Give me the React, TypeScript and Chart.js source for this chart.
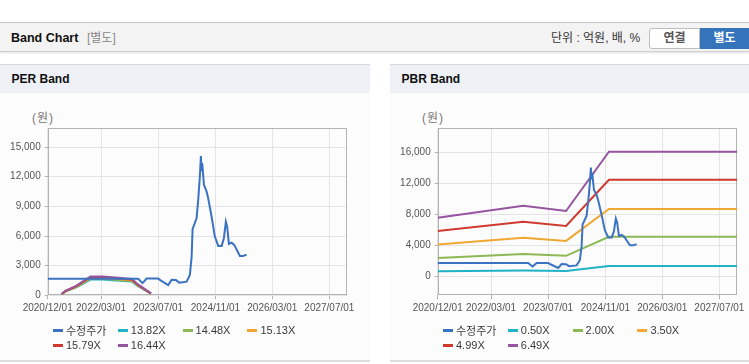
import React, { useEffect, useRef } from 'react';
import { Chart, registerables } from 'chart.js';

Chart.register(...registerables);

// ---------- data ----------
const xStart = '2020/12/01';
const xEnd = '2027/12/01';
const xTickLabels = ['2020/12/01', '2022/03/01', '2023/07/01', '2024/11/01', '2026/03/01', '2027/07/01'];

const priceDates = [
  '2020/12/01', '2023/01/12', '2023/02/18', '2023/03/25', '2023/07/02', '2023/07/16', '2023/09/25',
  '2023/10/24', '2023/11/30', '2023/12/28', '2024/02/29', '2024/03/28', '2024/04/12', '2024/04/20',
  '2024/05/24', '2024/06/07', '2024/06/21', '2024/06/30', '2024/07/06', '2024/07/11', '2024/07/26',
  '2024/08/18', '2024/08/31', '2024/09/29', '2024/10/27', '2024/11/25', '2024/12/24', '2025/01/12',
  '2025/01/29', '2025/02/09', '2025/02/24', '2025/03/19', '2025/04/10', '2025/05/29', '2025/06/26',
  '2025/07/25',
];
const priceValues = [
  1680, 1680, 1230, 1700, 1700, 1560, 1040,
  1560, 1540, 1280, 1380, 2060, 3910, 6690,
  7800, 9660, 12020, 14080, 12530, 13380, 11180,
  10500, 9830, 7970, 5940, 5000, 5000, 5780,
  7460, 6950, 5200, 5330, 5100, 3980, 3980,
  4115,
];

const perBandDates = [
  '2021/03/31', '2021/05/01', '2021/08/01', '2021/09/15', '2021/12/01',
  '2022/03/15', '2022/07/01', '2022/11/20', '2023/01/10', '2023/05/01',
];
const per1382 = [109, 378, 799, 1093, 1597, 1597, 1505, 1387, 925, 168];
const per1448 = [115, 396, 837, 1145, 1674, 1674, 1577, 1453, 969, 176];
const per1513 = [120, 414, 874, 1196, 1749, 1749, 1647, 1518, 1012, 184];
const per1579 = [125, 432, 912, 1249, 1825, 1825, 1719, 1585, 1057, 192];
const per1644 = [130, 450, 950, 1300, 1900, 1900, 1790, 1650, 1100, 200];

const pbrBandDates = ['2020/12/01', '2022/12/01', '2023/12/01', '2024/12/01', '2027/12/01'];
const pbr050 = [620, 720, 660, 1300, 1300];
const pbr200 = [2330, 2870, 2620, 5100, 5100];
const pbr350 = [4080, 4960, 4560, 8700, 8700];
const pbr499 = [5840, 7030, 6500, 12480, 12480];
const pbr649 = [7570, 9130, 8440, 16130, 16130];

const perYTicks = [0, 3000, 6000, 9000, 12000, 15000];
const pbrYTicks = [0, 4000, 8000, 12000, 16000];

const perLegend = ['수정주가', '13.82X', '14.48X', '15.13X', '15.79X', '16.44X'];
const pbrLegend = ['수정주가', '0.50X', '2.00X', '3.50X', '4.99X', '6.49X'];

const colors = ['#3a73c3', '#20b2c6', '#8cb955', '#f0a733', '#cf392f', '#95559f'];
// drawing order: lower value is drawn on top
const drawOrder = [0, 5, 4, 3, 2, 1];

// ---------- helpers ----------
const START = (() => {
  const [y, m, d] = xStart.split('/').map(Number);
  return Date.UTC(y, m - 1, d);
})();
const dayOf = (s: string) => {
  const [y, m, d] = s.split('/').map(Number);
  return (Date.UTC(y, m - 1, d) - START) / 86400000;
};
const toPoints = (dates: string[], values: number[]) =>
  dates.map((d, i) => ({ x: dayOf(d), y: values[i] }));

const TICK_FONT = "'Liberation Sans', Arial, sans-serif";
const UI_FONT = "'Liberation Sans', 'Noto Sans CJK KR', Arial, sans-serif";

const framePlugin = {
  id: 'frame',
  beforeDatasetsDraw(chart: any) {
    const { ctx, chartArea } = chart;
    const l = Math.round(chartArea.left) + 0.5;
    const t = Math.round(chartArea.top) + 0.5;
    const r = Math.round(chartArea.right) - 0.5;
    const b = Math.round(chartArea.bottom) - 0.5;
    ctx.save();
    ctx.strokeStyle = '#b3b3b3';
    ctx.lineWidth = 1;
    ctx.strokeRect(l, t, r - l, b - t);
    ctx.restore();
  },
};

type BandChartProps = {
  series: { x: number; y: number }[][];
  yMin: number;
  yMax: number;
  yTicks: number[];
};

function BandChart({ series, yMin, yMax, yTicks }: BandChartProps) {
  const ref = useRef<HTMLCanvasElement | null>(null);
  useEffect(() => {
    if (!ref.current) return;
    const xTicks = xTickLabels.map(dayOf);
    const chart = new Chart(ref.current, {
      type: 'line',
      data: {
        datasets: series.map((pts, i) => ({
          data: pts,
          borderColor: colors[i],
          backgroundColor: colors[i],
          borderWidth: 2,
          pointRadius: 0,
          tension: 0,
          fill: false,
          order: drawOrder[i],
        })),
      },
      options: {
        animation: false,
        responsive: false,
        maintainAspectRatio: false,
        parsing: false as any,
        layout: { padding: { top: 35.3, right: 22.7, bottom: 0, left: 0 } },
        plugins: { legend: { display: false }, tooltip: { enabled: false } },
        scales: {
          x: {
            type: 'linear',
            min: 0,
            max: dayOf(xEnd),
            afterBuildTicks: (s: any) => {
              s.ticks = xTicks.map((v) => ({ value: v }));
            },
            afterFit: (s: any) => {
              s.height = 27.7;
            },
            ticks: {
              autoSkip: false,
              maxRotation: 0,
              minRotation: 0,
              padding: 3,
              color: '#555',
              font: { family: TICK_FONT, size: 10 },
              callback: (_v: any, i: number) => xTickLabels[i],
            },
            grid: { color: '#e4e4e4', tickColor: '#b3b3b3', tickLength: 4, lineWidth: 1 },
            border: { display: false },
          },
          y: {
            type: 'linear',
            min: yMin,
            max: yMax,
            afterBuildTicks: (s: any) => {
              s.ticks = yTicks.map((v) => ({ value: v }));
            },
            afterFit: (s: any) => {
              s.width = 47.7;
            },
            ticks: {
              padding: 4,
              color: '#555',
              font: { family: TICK_FONT, size: 10 },
              callback: (v: any) => Number(v).toLocaleString('en-US'),
            },
            grid: { color: '#e4e4e4', tickColor: '#b3b3b3', tickLength: 3, lineWidth: 1 },
            border: { display: false },
          },
        },
      } as any,
      plugins: [framePlugin],
    });
    return () => chart.destroy();
  }, []);
  return <canvas ref={ref} width={370} height={230} style={{ display: 'block', width: 370, height: 230 }} />;
}

function Legend({ labels }: { labels: string[] }) {
  return (
    <>
      {labels.map((lab, i) => {
        const col = i % 4;
        const row = Math.floor(i / 4);
        return (
          <div
            key={lab}
            style={{
              position: 'absolute',
              left: 53 + col * 64.8,
              top: 265.3 + row * 15 - 7,
              height: 14,
              display: 'flex',
              alignItems: 'center',
              whiteSpace: 'nowrap',
              font: `11px ${UI_FONT}`,
              color: '#3a3a3a',
            }}
          >
            <span style={{ display: 'inline-block', width: 10, height: 3, background: colors[i], marginRight: 3 }} />
            {lab}
          </div>
        );
      })}
    </>
  );
}

function Panel({
  left,
  title,
  children,
  legend,
}: {
  left: number;
  title: string;
  children: React.ReactNode;
  legend: string[];
}) {
  return (
    <div
      style={{
        position: 'absolute',
        left,
        top: 64,
        width: 370,
        height: 298,
        background: '#fcfcfc',
        borderTop: '1px solid #d9d9d9',
        borderBottom: '2px solid #dddddd',
        boxSizing: 'border-box',
      }}
    >
      <div
        style={{
          position: 'absolute',
          left: 0,
          top: 0,
          width: 370,
          height: 28,
          background: '#edf1f6',
        }}
      >
        <span
          style={{
            position: 'absolute',
            left: 11.5,
            top: 7,
            font: `bold 12px ${UI_FONT}`,
            color: '#111',
            lineHeight: '15px',
          }}
        >
          {title}
        </span>
      </div>
      <span
        style={{
          position: 'absolute',
          left: 32,
          top: 46,
          font: `12px ${UI_FONT}`,
          color: '#777',
          letterSpacing: 1,
          lineHeight: '15px',
        }}
      >
        (원)
      </span>
      <div style={{ position: 'absolute', left: 0, top: 28 }}>{children}</div>
      <Legend labels={legend} />
    </div>
  );
}

export default function App() {
  const price = toPoints(priceDates, priceValues);
  const perSeries = [
    price,
    toPoints(perBandDates, per1382),
    toPoints(perBandDates, per1448),
    toPoints(perBandDates, per1513),
    toPoints(perBandDates, per1579),
    toPoints(perBandDates, per1644),
  ];
  const pbrSeries = [
    price,
    toPoints(pbrBandDates, pbr050),
    toPoints(pbrBandDates, pbr200),
    toPoints(pbrBandDates, pbr350),
    toPoints(pbrBandDates, pbr499),
    toPoints(pbrBandDates, pbr649),
  ];
  return (
    <div
      style={{
        position: 'absolute',
        left: 0,
        top: 0,
        width: 749,
        height: 364,
        overflow: 'hidden',
        background: '#fff',
      }}
    >
      {/* header bar */}
      <div
        style={{
          position: 'absolute',
          left: 0,
          top: 22,
          width: 749,
          height: 30,
          background: '#f3f3f3',
          borderTop: '1px solid #c6c6c6',
          borderBottom: '1px solid #cfcfcf',
          boxShadow: '0 1px 2px rgba(0,0,0,0.12)',
          boxSizing: 'border-box',
        }}
      >
        <span
          style={{
            position: 'absolute',
            left: 11,
            top: 7,
            font: `bold 12.5px ${UI_FONT}`,
            color: '#111',
            lineHeight: '16px',
          }}
        >
          Band Chart
        </span>
        <span
          style={{
            position: 'absolute',
            left: 87,
            top: 7,
            font: `12px ${UI_FONT}`,
            color: '#888',
            lineHeight: '16px',
          }}
        >
          [별도]
        </span>
        <span
          style={{
            position: 'absolute',
            left: 551,
            top: 7,
            font: `12px ${UI_FONT}`,
            color: '#333',
            lineHeight: '16px',
          }}
        >
          단위 : 억원, 배, %
        </span>
        <div
          style={{
            position: 'absolute',
            left: 649,
            top: 5,
            width: 51,
            height: 21,
            background: '#fff',
            border: '1px solid #bdbdbd',
            borderRadius: '3px 0 0 3px',
            boxSizing: 'border-box',
            font: `bold 12px ${UI_FONT}`,
            color: '#555',
            textAlign: 'center',
            lineHeight: '19px',
          }}
        >
          연결
        </div>
        <div
          style={{
            position: 'absolute',
            left: 700,
            top: 5,
            width: 52,
            height: 21,
            background: '#3574ba',
            boxSizing: 'border-box',
            font: `bold 12px ${UI_FONT}`,
            color: '#fff',
            textAlign: 'center',
            lineHeight: '21px',
            paddingRight: 3,
          }}
        >
          별도
        </div>
      </div>

      <Panel left={0} title="PER Band" legend={perLegend}>
        <BandChart series={perSeries} yMin={0} yMax={16900} yTicks={perYTicks} />
      </Panel>
      <Panel left={390} title="PBR Band" legend={pbrLegend}>
        <BandChart series={pbrSeries} yMin={-2500} yMax={19170} yTicks={pbrYTicks} />
      </Panel>
    </div>
  );
}
